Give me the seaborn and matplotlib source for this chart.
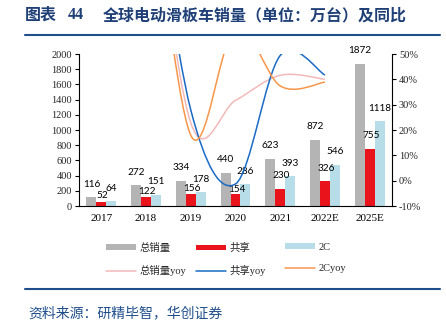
import numpy as np
import pandas as pd
import matplotlib
matplotlib.use("Agg")
import matplotlib.pyplot as plt
from matplotlib.path import Path
from matplotlib.patches import PathPatch, Patch
from matplotlib.lines import Line2D
import seaborn as sns

# ---- data ----
years = ["2017", "2018", "2019", "2020", "2021", "2022E", "2025E"]
total = [116, 272, 334, 440, 623, 872, 1872]
shared = [52, 122, 156, 154, 230, 326, 755]
to_c = [64, 151, 178, 286, 393, 546, 1118]
yoy_years = ["2018", "2019", "2020", "2021", "2022E"]
total_yoy = [134.5, 22.8, 31.7, 41.6, 40.0]
shared_yoy = [134.6, 27.9, -1.3, 49.4, 41.7]
to_c_yoy = [135.9, 17.9, 60.7, 37.4, 38.9]
series_names = ["总销量", "共享", "2C"]
yoy_names = ["总销量yoy", "共享yoy", "2Cyoy"]

# ---- style ----
sns.set_theme(style="white")
plt.rcParams["font.family"] = ["Liberation Serif", "Noto Sans CJK SC", "DejaVu Sans"]
W, H = 446, 323
fig = plt.figure(figsize=(W / 100, H / 100), dpi=100)
ax = fig.add_axes([79 / W, 1 - 206 / H, (392 - 79) / W, (206 - 54) / H])

bar_colors = ["#B4B4B4", "#E8131B", "#B6DDE8"]
line_colors = ["#F2B9B9", "#1A6BC6", "#F7964A"]

df = pd.DataFrame({
    "year": years * 3,
    "value": total + shared + to_c,
    "series": sum([[n] * len(years) for n in series_names], []),
})
sns.barplot(data=df, x="year", y="value", hue="series", order=years,
            hue_order=series_names, palette=bar_colors, width=0.67,
            saturation=1, ax=ax, legend=False, edgecolor="none")

ax.set_ylim(0, 2000)
ax.set_xlim(-0.5, len(years) - 0.5)
ax.set_yticks(np.arange(0, 2001, 200))
ax.set_xlabel("")
ax.set_ylabel("")
ax.set_xticks(range(len(years)))
ax.set_xticklabels(years)
ax.set_xticks(np.arange(-0.5, len(years), 1.0), minor=True)
ax.tick_params(axis="x", which="major", length=0, pad=6, labelsize=8, colors="#000000")
ax.tick_params(axis="x", which="minor", length=4, width=0.8, direction="out", color="#000000")
ax.tick_params(axis="y", length=3, width=0.8, direction="out", labelsize=7.5, pad=2, color="#000000")
for s in ["left", "bottom"]:
    ax.spines[s].set_color("#000000")
    ax.spines[s].set_linewidth(0.8)
ax.spines["top"].set_visible(False)
ax.spines["right"].set_visible(False)
ax.grid(False)

# data labels
lab_font = dict(fontsize=7.2, family=["Lato", "DejaVu Sans"], color="#000000",
                ha="center", va="center")
bw = 0.67 / 3
red_off = [7, 5, 6, 5, 13, 13, 13]
for i in range(len(years)):
    ax.annotate(str(total[i]), (i - bw, total[i]), xytext=(0, 13 * 0.72),
                textcoords="offset points", **lab_font)
    ax.annotate(str(shared[i]), (i + 0.03, shared[i]), xytext=(0, red_off[i] * 0.72),
                textcoords="offset points", **lab_font)
    ax.annotate(str(to_c[i]), (i + bw, to_c[i]), xytext=(0, 13 * 0.72),
                textcoords="offset points", **lab_font)

# secondary axis with smoothed yoy lines
ax2 = ax.twinx()
ax2.set_ylim(-10, 50)
ax2.set_yticks(np.arange(-10, 51, 10))
ax2.set_yticklabels([f"{v}%" for v in range(-10, 51, 10)])
ax2.tick_params(axis="y", length=3, width=0.8, direction="out", labelsize=7.5, pad=2, color="#000000")
for s in ["left", "top", "bottom"]:
    ax2.spines[s].set_visible(False)
ax2.spines["right"].set_color("#000000")
ax2.spines["right"].set_linewidth(0.8)
ax2.grid(False)


def smooth_path(xs, ys):
    pts = np.column_stack([xs, ys]).astype(float)
    n = len(pts)
    verts = [pts[0]]
    codes = [Path.MOVETO]
    for i in range(n - 1):
        p0 = pts[i - 1] if i > 0 else pts[i]
        p1 = pts[i]
        p2 = pts[i + 1]
        p3 = pts[i + 2] if i + 2 < n else pts[i + 1]
        verts += [p1 + (p2 - p0) / 6, p2 - (p3 - p1) / 6, p2]
        codes += [Path.CURVE4] * 3
    return Path(verts, codes)


xpos = [years.index(y) for y in yoy_years]
for vals, c in zip([total_yoy, shared_yoy, to_c_yoy], line_colors):
    ax2.add_patch(PathPatch(smooth_path(xpos, vals), facecolor="none",
                            edgecolor=c, lw=1.1, clip_on=True))

# legends (three columns)
leg_font = {"family": ["Liberation Serif", "Noto Sans CJK SC"], "size": 7.5}
cols_x = [106, 196, 285]
for k in range(3):
    handles = [Patch(facecolor=bar_colors[k], edgecolor="none"),
               Line2D([0], [0], color=line_colors[k], lw=1.1)]
    fig.legend(handles, [series_names[k], yoy_names[k]], loc="upper left",
               bbox_to_anchor=(cols_x[k] / W, 1 - 243 / H), frameon=False,
               prop=leg_font, handlelength=2.9, handleheight=0.45,
               handletextpad=0.3, labelspacing=1.15, borderpad=0, borderaxespad=0)

# title, rules, source
title_color = "#1F3F77"
tfont = dict(fontsize=11.5, fontweight="bold", color=title_color, va="center")
cjk = ["Noto Sans CJK SC", "DejaVu Sans"]
fig.text(25 / W, 1 - 15 / H, "图表", family=cjk, **tfont)
fig.text(68 / W, 1 - 15 / H, "44", family=["Liberation Serif"], **tfont)
fig.text(103 / W, 1 - 15 / H, "全球电动滑板车销量（单位：万台）及同比", family=cjk, **tfont)
fig.add_artist(Line2D([25 / W, 440 / W], [1 - 35 / H] * 2, transform=fig.transFigure,
                      color="#1F4E8C", lw=1.5))
fig.add_artist(Line2D([25 / W, 440 / W], [1 - 289 / H] * 2, transform=fig.transFigure,
                      color="#1F4E8C", lw=1.5))
fig.text(28 / W, 1 - 313 / H, "资料来源：研精毕智，华创证券", fontsize=10, style="italic",
         color="#1F4E8C", va="center", family=cjk)

fig.savefig("out.png", dpi=100)
